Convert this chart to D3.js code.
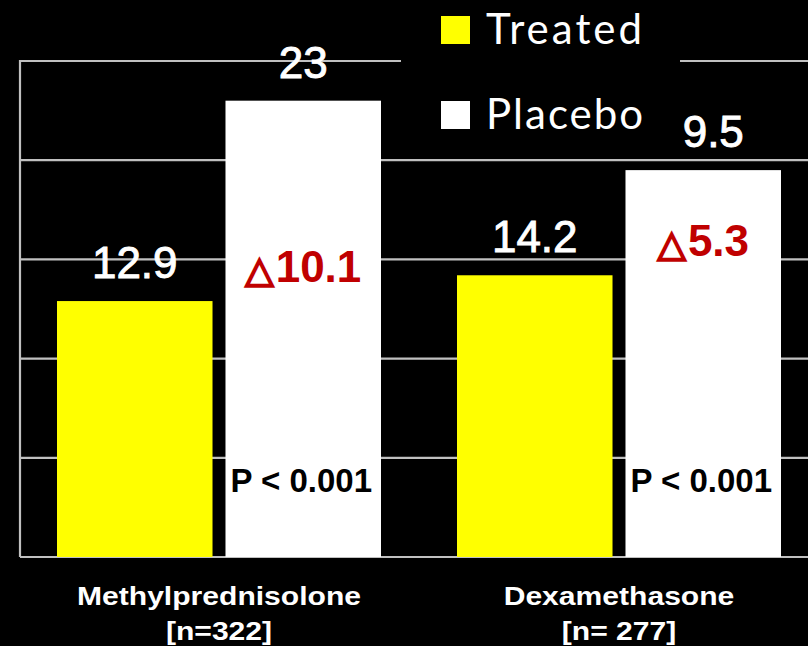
<!DOCTYPE html>
<html>
<head>
<meta charset="utf-8">
<script src="https://cdnjs.cloudflare.com/ajax/libs/d3/7.8.5/d3.min.js"></script>
<style>
  body { margin: 0; background: #000; }
  svg { display: block; }
</style>
</head>
<body>
<svg id="chart" width="808" height="646"></svg>
<script>
// data
const groups = ["Methylprednisolone", "Dexamethasone"];
const groupNs = ["[n=322]", "[n= 277]"];
const series = ["Treated", "Placebo"];
const treatedValues = [12.9, 14.2];
const placeboValues = [23, 19.5];
const treatedLabels = ["12.9", "14.2"];
const placeboLabels = ["23", "9.5"];
const deltaLabels = ["10.1", "5.3"];
const pLabels = ["P < 0.001", "P < 0.001"];
const yTicks = [0, 5, 10, 15, 20, 25];
const colors = ["#ffff00", "#ffffff"];

var svg = d3.select("#chart");
var font = "'Liberation Sans', Arial, sans-serif";

svg.append("rect").attr("width", 808).attr("height", 646).attr("fill", "#000");

var x0 = d3.scaleBand().domain(groups).range([19, 819]).padding(0);
var x1 = d3.scaleBand().domain(series).range([38, 362]).paddingInner(0.077);
var y = d3.scaleLinear().domain([0, 25]).range([557, 61]);

// gridlines
svg.append("g").selectAll("line")
    .data(yTicks)
    .enter().append("line")
    .attr("x1", 20).attr("x2", 808)
    .attr("y1", d => y(d)).attr("y2", d => y(d))
    .attr("stroke", "#c0c0c0")
    .attr("stroke-width", 2.2);

// left axis line
svg.append("line")
    .attr("x1", 20).attr("x2", 20)
    .attr("y1", y(25) - 1).attr("y2", y(0))
    .attr("stroke", "#c0c0c0")
    .attr("stroke-width", 2.2);

// legend background hides part of the grid
svg.append("rect")
    .attr("x", 401).attr("y", 0)
    .attr("width", 279).attr("height", 150)
    .attr("fill", "#000");

var rows = groups.map((g, i) => ({
    group: g,
    n: groupNs[i],
    vals: [treatedValues[i], placeboValues[i]],
    labels: [treatedLabels[i], placeboLabels[i]],
    delta: deltaLabels[i],
    p: pLabels[i]
}));

var gGroups = svg.selectAll("g.grp")
    .data(rows)
    .enter().append("g")
    .attr("class", "grp")
    .attr("transform", d => "translate(" + x0(d.group) + ",0)");

// bars
gGroups.selectAll("rect")
    .data(d => series.map((s, j) => ({ s: s, v: d.vals[j], label: d.labels[j] })))
    .enter().append("rect")
    .attr("x", d => x1(d.s))
    .attr("y", d => y(d.v))
    .attr("width", x1.bandwidth())
    .attr("height", d => y(0) - y(d.v))
    .attr("fill", (d, j) => colors[j]);

// value labels
gGroups.selectAll("text.val")
    .data(d => series.map((s, j) => ({ s: s, v: d.vals[j], label: d.labels[j] })))
    .enter().append("text")
    .attr("class", "val")
    .attr("x", d => x1(d.s) + x1.bandwidth() / 2)
    .attr("dx", d => d.label.length === 3 && d.s === "Placebo" ? 10 : 0)
    .attr("y", d => y(d.v) - 23)
    .attr("text-anchor", "middle")
    .style("font-family", font)
    .style("font-size", "44px")
    .style("fill", "#fff")
    .style("stroke", "#fff")
    .style("stroke-width", 0.9)
    .text(d => d.label);

// delta labels
var dl = gGroups.append("text")
    .attr("x", x1("Placebo") + x1.bandwidth() / 2)
    .attr("y", d => y(d.vals[0]) - 19)
    .attr("text-anchor", "middle")
    .style("font-family", font)
    .style("font-weight", "bold")
    .style("fill", "#c00000");
dl.append("tspan")
    .style("font-family", "'DejaVu Sans', sans-serif")
    .style("font-weight", "normal")
    .style("font-size", "37px")
    .style("stroke", "#c00000")
    .style("stroke-width", 2)
    .text("\u25B3");
dl.append("tspan").style("font-size", "44px").attr("dx", 2).text(d => d.delta);

// p-value labels
gGroups.append("text")
    .attr("x", x1("Placebo") + x1.bandwidth() / 2 - 2)
    .attr("y", 492)
    .attr("text-anchor", "middle")
    .style("font-family", font)
    .style("font-weight", "bold")
    .style("font-size", "33px")
    .style("fill", "#000")
    .text(d => d.p);

// category labels
gGroups.append("text")
    .attr("transform", "translate(" + (x0.bandwidth() / 2) + ",605) scale(1.18,1)")
    .attr("text-anchor", "middle")
    .style("font-family", font)
    .style("font-weight", "bold")
    .style("font-size", "25.5px")
    .style("fill", "#fff")
    .text(d => d.group);

gGroups.append("text")
    .attr("transform", "translate(" + (x0.bandwidth() / 2) + ",640) scale(1.18,1)")
    .attr("text-anchor", "middle")
    .style("font-family", font)
    .style("font-weight", "bold")
    .style("font-size", "25.5px")
    .style("fill", "#fff")
    .text(d => d.n);

// legend
var legend = svg.append("g").attr("transform", "translate(441,0)");
var li = legend.selectAll("g")
    .data(series)
    .enter().append("g")
    .attr("transform", (d, i) => "translate(0," + (16 + i * 85) + ")");
li.append("rect")
    .attr("width", 29).attr("height", 28)
    .attr("fill", (d, i) => colors[i]);
li.append("text")
    .attr("x", 45).attr("y", 28)
    .style("font-family", "Lato, 'Open Sans', sans-serif")
    .style("font-size", "42px")
    .style("letter-spacing", (d, i) => i === 0 ? "3px" : "2px")
    .style("fill", "#fff")
    .text(d => d);
</script>
</body>
</html>
